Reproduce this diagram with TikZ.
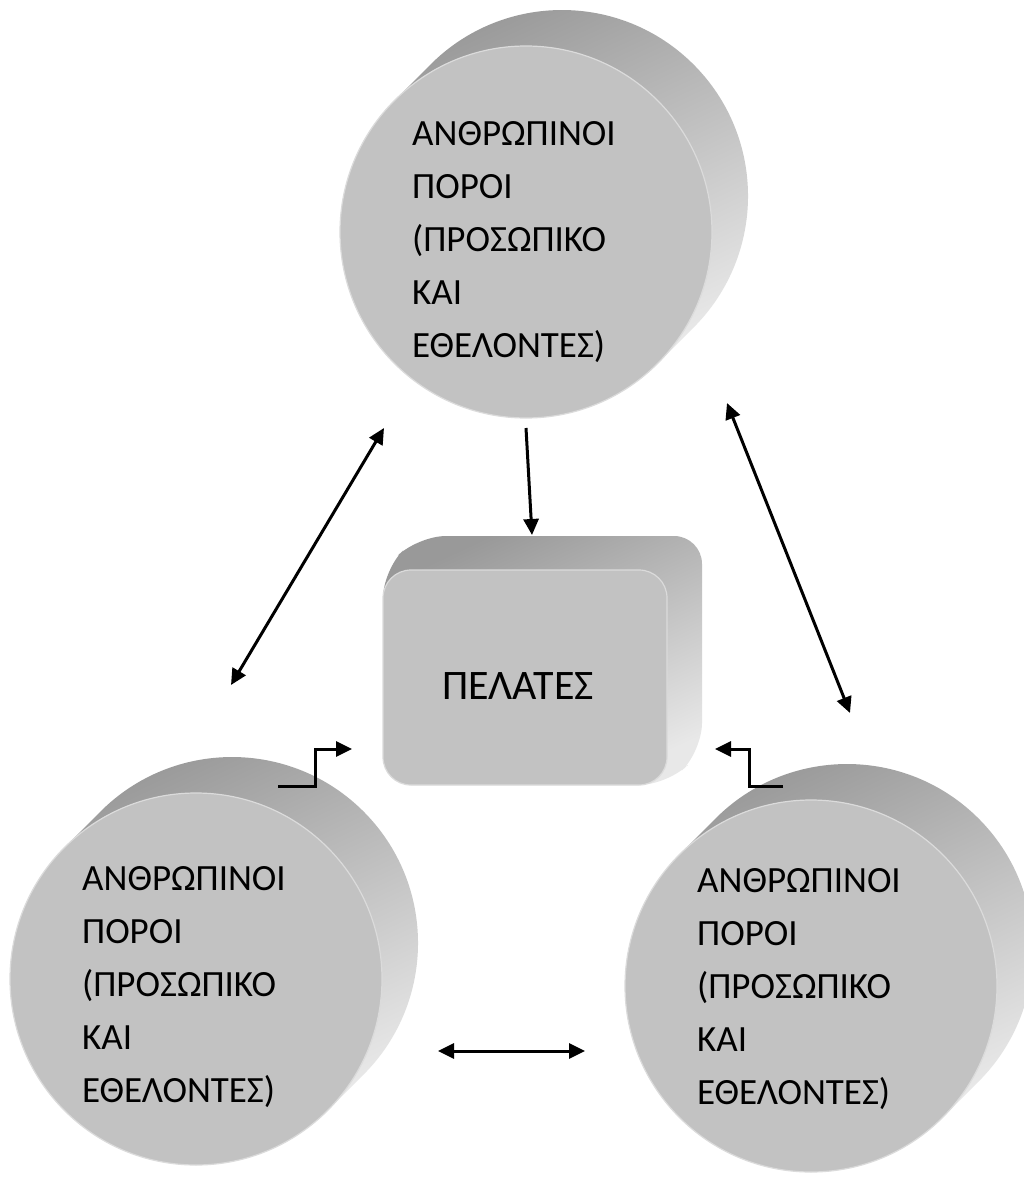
\documentclass[tikz,border=0pt]{standalone}
\usepackage{fontspec}
\setmainfont{Carlito}
\usetikzlibrary{arrows.meta}
\newcommand\mycyl[3]{%
  \shade[side] (#2-131.5,#3-131.5) -- (#2+36-131.5,#3-36-131.5)
     arc[start angle=225,end angle=405,radius=186] -- (#2+131.5,#3+131.5) -- cycle;
  \node[face,circle,minimum size=372pt] (#1) at (#2,#3) {};
}
\newcommand\hrlines{\parbox[t]{300pt}{\fontsize{37}{53}\selectfont\raggedright
ΑΝΘΡΩΠΙΝΟΙ\\ΠΟΡΟΙ\\(ΠΡΟΣΩΠΙΚΟ\\ΚΑΙ\\ΕΘΕΛΟΝΤΕΣ)}}
\begin{document}
\begin{tikzpicture}[x=1pt,y=-1pt,
  face/.style={fill=black!24,draw=black!14,line width=1.2pt,inner sep=0pt},
  side/.style={top color=black!40,bottom color=black!9,shading angle=25},
  txt/.style={anchor=base west,inner sep=0pt},
  conn/.style={line width=3pt,-{Triangle[length=16pt,width=15pt]}},
  dconn/.style={line width=3pt,{Triangle[length=16pt,width=15pt]}-{Triangle[length=16pt,width=15pt]}},
  stepconn/.style={line width=3pt,-{Triangle[length=16pt,width=15pt]}}]
\useasboundingbox (0,0) rectangle (1024,1188);
\fill[white] (0,0) rectangle (1024,1188);
% cylinders
\mycyl{top}{526}{232}
\mycyl{bl}{196}{979}
\mycyl{br}{811}{986}
% box
\shade[side,rounded corners=28pt] (383,570) -- (418,536) -- (702,536) -- (702,751) -- (667,785) -- (383,785) -- cycle;
\node[face,rectangle,rounded corners=28pt,minimum width=284pt,minimum height=215pt] (box) at (525,677.5) {};
% texts
\node[txt] (toptext) at (412,146) {\hrlines};
\node[txt] (bltext) at (82,890) {\hrlines};
\node[txt] (brtext) at (697,892) {\hrlines};
\node[anchor=base,inner sep=0pt] (boxtext) at (518,699) {\fontsize{42}{46}\selectfont ΠΕΛΑΤΕΣ};
% connector end points
\coordinate (a1) at (526,428);
\coordinate (a2) at (532,535);
\coordinate (b1) at (384,428);
\coordinate (b2) at (231,685);
\coordinate (c1) at (727,403);
\coordinate (c2) at (850,713);
\coordinate (d1) at (438,1051);
\coordinate (d2) at (585,1051);
\coordinate (e1) at (278,786);
\coordinate (e2) at (352,749);
\coordinate (f1) at (783,786);
\coordinate (f2) at (715,749);
% connectors
\draw[conn] (a1) -- (a2);
\draw[dconn] (b1) -- (b2);
\draw[dconn] (c1) -- (c2);
\draw[dconn] (d1) -- (d2);
\draw[stepconn] (e1) -| (315,767.5) |- (e2);
\draw[stepconn] (f1) -| (749,767.5) |- (f2);
\end{tikzpicture}
\end{document}
